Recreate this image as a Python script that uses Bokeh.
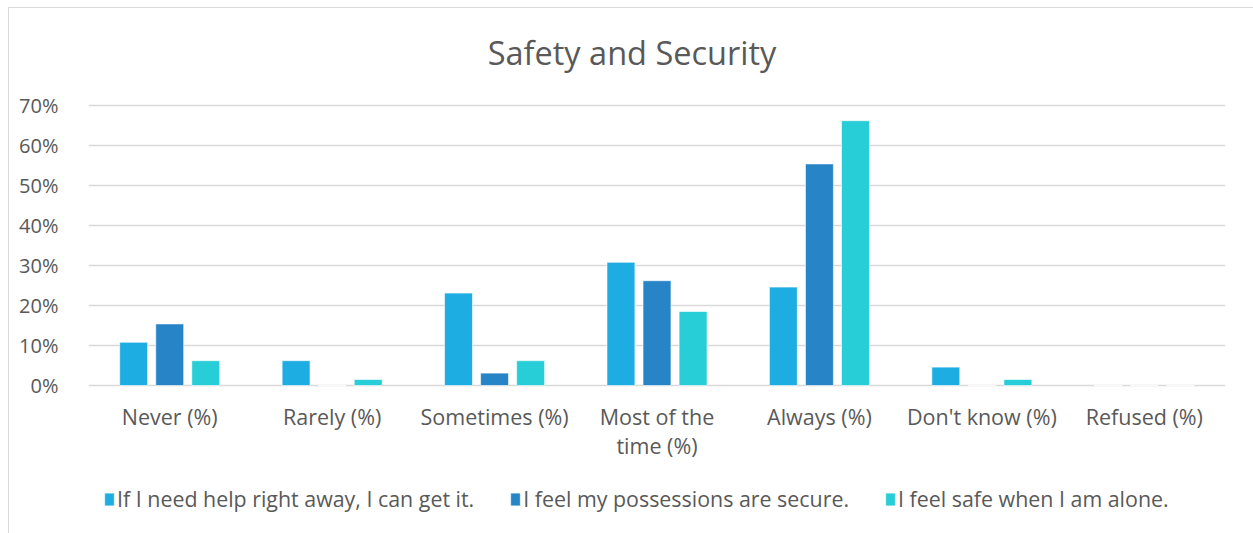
from bokeh.plotting import figure
from bokeh.models import ColumnDataSource, FactorRange, Legend, LegendItem, FixedTicker
from bokeh.core.properties import value
from bokeh.transform import dodge
from bokeh.embed import file_html
from bokeh.resources import INLINE

title_text = "Safety and Security"
categories = ["Never (%)", "Rarely (%)", "Sometimes (%)", "Most of the time (%)",
              "Always (%)", "Don't know (%)", "Refused (%)"]
x_tick_labels = ["Never (%)", "Rarely (%)", "Sometimes (%)", "Most of the\ntime (%)",
                 "Always (%)", "Don't know (%)", "Refused (%)"]
series_names = ["If I need help right away, I can get it.",
                "I feel my possessions are secure.",
                "I feel safe when I am alone."]
help_vals = [10.8, 6.2, 23.1, 30.8, 24.6, 4.6, 0.0]
possessions_vals = [15.4, 0.0, 3.1, 26.2, 55.4, 0.0, 0.0]
alone_vals = [6.2, 1.5, 6.2, 18.5, 66.2, 1.5, 0.0]
y_ticks = [0, 10, 20, 30, 40, 50, 60, 70]
y_tick_labels = ["0%", "10%", "20%", "30%", "40%", "50%", "60%", "70%"]
colors = ["#1EADE3", "#2784C6", "#27CDD7"]

FONT = "Open Sans"
GREY = "#595959"

source = ColumnDataSource(dict(cat=categories, s1=help_vals, s2=possessions_vals, s3=alone_vals))

# frame spans (almost) the full figure height; 4 px per percentage point
p = figure(x_range=FactorRange(*categories, range_padding=0), y_range=(-36.25, 93.75),
           width=1250, height=530, output_backend="svg", toolbar_location=None,
           min_border_left=79, min_border_right=34, min_border_top=2, min_border_bottom=8)
p.styles = {"margin-left": "8px", "margin-top": "7px", "border": "1px solid #d9d9d9"}

# chart title, centred over the whole chart box
p.text(x=[categories[3]], y=[83.25], text=[title_text], text_font=value(FONT),
       text_font_size="32.5px", text_color=GREY, text_align="center",
       text_baseline="middle", x_offset=-25)

renderers = []
for key, off, col in zip(["s1", "s2", "s3"], [-0.222, 0.0, 0.222], colors):
    r = p.vbar(x=dodge("cat", off, range=p.x_range), top=key, width=0.172, source=source,
               fill_color=col, line_color="white", line_width=0.6)
    renderers.append(r)

# category labels drawn inside the (extended) frame, below the 0% line
line1, line2, lx1, lx2 = [], [], [], []
for c, lab in zip(categories, x_tick_labels):
    parts = lab.split("\n")
    lx1.append(c)
    line1.append(parts[0])
    if len(parts) > 1:
        lx2.append(c)
        line2.append(parts[1])
p.text(x=lx1, y=[-7.75] * len(lx1), text=line1, text_font=value(FONT), text_font_size="21.5px",
       text_color=GREY, text_align="center", text_baseline="middle")
p.text(x=lx2, y=[-15.0] * len(lx2), text=line2, text_font=value(FONT), text_font_size="21.5px",
       text_color=GREY, text_align="center", text_baseline="middle")

p.outline_line_color = None
p.xgrid.grid_line_color = None
p.ygrid.grid_line_color = "#d9d9d9"
p.ygrid.grid_line_width = 1.3
p.ygrid.ticker = FixedTicker(ticks=y_ticks)
p.xaxis.visible = False

p.yaxis.ticker = FixedTicker(ticks=y_ticks)
p.yaxis.major_label_overrides = {t: l for t, l in zip(y_ticks, y_tick_labels)}
p.yaxis.axis_line_color = None
p.yaxis.major_tick_line_color = None
p.yaxis.minor_tick_line_color = None
p.yaxis.major_label_text_font = FONT
p.yaxis.major_label_text_font_size = "20px"
p.yaxis.major_label_text_color = GREY
p.yaxis.major_label_standoff = 24

legend = Legend(items=[LegendItem(label=n, renderers=[r]) for n, r in zip(series_names, renderers)],
                orientation="horizontal", location=(15, 17))
legend.label_text_font = FONT
legend.label_text_font_size = "21.4px"
legend.label_text_color = GREY
legend.glyph_width = 12
legend.glyph_height = 16
legend.spacing = 35
legend.label_standoff = 2
legend.border_line_color = None
legend.background_fill_alpha = 0
legend.margin = 0
legend.padding = 0
p.add_layout(legend, "center")

open("out.html", "w").write(file_html(p, INLINE))
